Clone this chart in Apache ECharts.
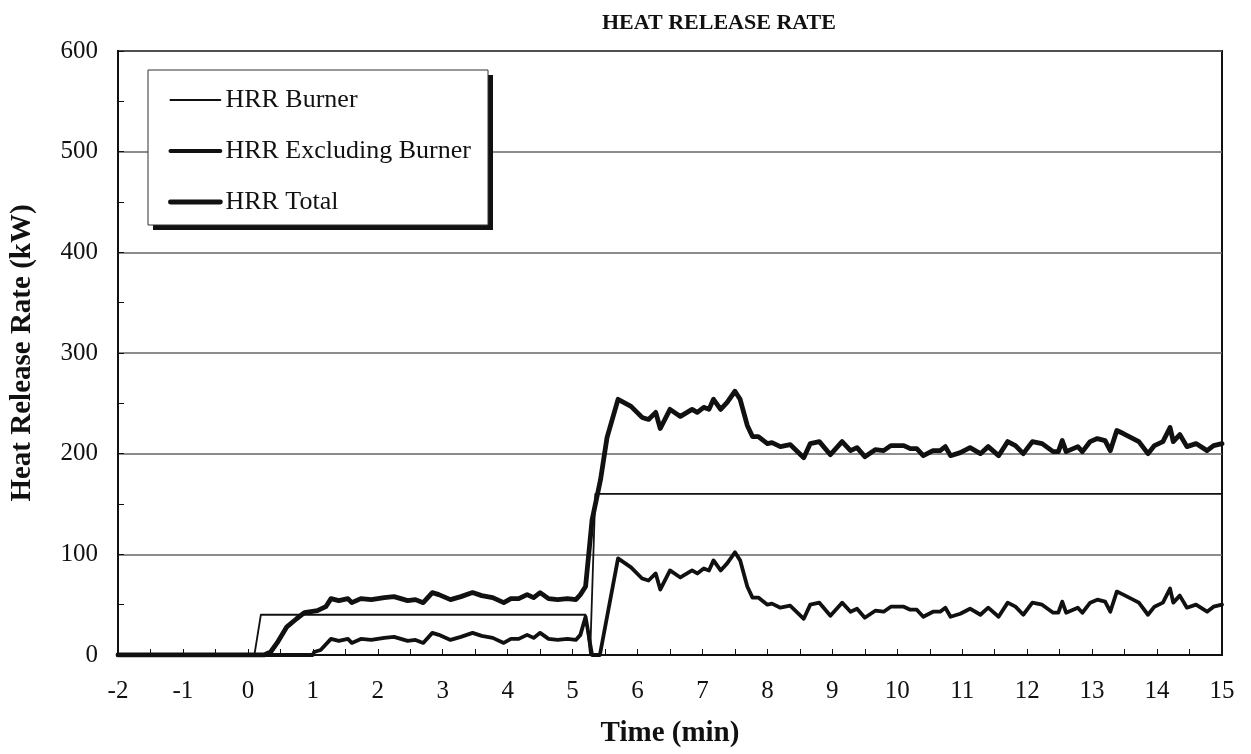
<!DOCTYPE html>
<html>
<head>
<meta charset="utf-8">
<title>Heat Release Rate</title>
<script src="https://cdn.jsdelivr.net/npm/echarts@6/dist/echarts.min.js"></script>
<style>
  html, body { margin: 0; padding: 0; background: #fff; }
  #chart { width: 1251px; height: 754px; }
</style>
</head>
<body>
<div id="chart"></div>
<script>
// 数据：时间 (min) 与 热释放速率 (kW)
let burnerData = [
    [-2, 0], [0.1, 0], [0.2, 40], [5.2, 40], [5.27, 0], [5.3, 0], [5.35, 160], [15, 160]
];

let excludingData = [
    [-2, 0], [1.0, 0], [1.02, 3], [1.12, 5], [1.28, 16], [1.4, 14], [1.54, 16], [1.6, 12],
    [1.74, 16], [1.9, 15], [2.1, 17], [2.25, 18], [2.46, 14], [2.58, 15], [2.7, 12], [2.84, 22],
    [2.94, 20], [3.12, 15], [3.28, 18], [3.46, 22], [3.6, 19], [3.77, 17], [3.94, 12], [4.05, 16],
    [4.17, 16], [4.3, 20], [4.4, 17], [4.5, 22], [4.63, 16], [4.77, 15], [4.92, 16], [5.05, 15],
    [5.12, 20], [5.2, 38], [5.3, 0], [5.42, 0], [5.7, 96], [5.9, 87], [6.07, 76], [6.17, 74],
    [6.28, 81], [6.35, 65], [6.5, 84], [6.66, 77], [6.84, 84], [6.92, 81], [7.02, 86], [7.1, 84],
    [7.17, 94], [7.28, 84], [7.38, 91], [7.5, 102], [7.58, 94], [7.69, 68], [7.77, 57], [7.86, 57],
    [8.0, 50], [8.07, 51], [8.2, 47], [8.35, 49], [8.56, 36], [8.66, 50], [8.8, 52], [8.97, 39],
    [9.15, 52], [9.28, 43], [9.38, 46], [9.5, 37], [9.66, 44], [9.79, 43], [9.9, 48], [10.1, 48],
    [10.2, 45], [10.3, 45], [10.4, 38], [10.55, 43], [10.66, 43], [10.74, 47], [10.82, 38], [10.97, 41],
    [11.12, 46], [11.28, 40], [11.4, 47], [11.56, 38], [11.7, 52], [11.82, 48], [11.94, 40], [12.08, 52],
    [12.23, 50], [12.4, 42], [12.48, 42], [12.54, 53], [12.6, 42], [12.78, 47], [12.85, 42], [12.97, 52],
    [13.08, 55], [13.2, 53], [13.28, 43], [13.38, 63], [13.48, 60], [13.6, 56], [13.72, 52], [13.86, 40],
    [13.96, 48], [14.09, 52], [14.2, 66], [14.25, 52], [14.35, 59], [14.46, 47], [14.6, 50], [14.77, 43],
    [14.87, 48], [15, 50]
];

let totalData = [
    [-2, 0], [0.25, 0], [0.35, 3], [0.45, 12], [0.6, 28], [0.75, 36], [0.87, 42], [1.07, 44],
    [1.2, 48], [1.28, 56], [1.4, 54], [1.54, 56], [1.6, 52], [1.74, 56], [1.9, 55], [2.1, 57],
    [2.25, 58], [2.46, 54], [2.58, 55], [2.7, 52], [2.84, 62], [2.94, 60], [3.12, 55], [3.28, 58],
    [3.46, 62], [3.6, 59], [3.77, 57], [3.94, 52], [4.05, 56], [4.17, 56], [4.3, 60], [4.4, 57],
    [4.5, 62], [4.63, 56], [4.77, 55], [4.92, 56], [5.05, 55], [5.12, 60], [5.2, 68], [5.3, 134],
    [5.43, 174], [5.53, 216], [5.7, 254], [5.9, 247], [6.07, 236], [6.17, 234], [6.28, 241], [6.35, 225],
    [6.5, 244], [6.66, 237], [6.84, 244], [6.92, 241], [7.02, 246], [7.1, 244], [7.17, 254], [7.28, 244],
    [7.38, 251], [7.5, 262], [7.58, 254], [7.69, 228], [7.77, 217], [7.86, 217], [8.0, 210], [8.07, 211],
    [8.2, 207], [8.35, 209], [8.56, 196], [8.66, 210], [8.8, 212], [8.97, 199], [9.15, 212], [9.28, 203],
    [9.38, 206], [9.5, 197], [9.66, 204], [9.79, 203], [9.9, 208], [10.1, 208], [10.2, 205], [10.3, 205],
    [10.4, 198], [10.55, 203], [10.66, 203], [10.74, 207], [10.82, 198], [10.97, 201], [11.12, 206], [11.28, 200],
    [11.4, 207], [11.56, 198], [11.7, 212], [11.82, 208], [11.94, 200], [12.08, 212], [12.23, 210], [12.4, 202],
    [12.48, 202], [12.54, 213], [12.6, 202], [12.78, 207], [12.85, 202], [12.97, 212], [13.08, 215], [13.2, 213],
    [13.28, 203], [13.38, 223], [13.48, 220], [13.6, 216], [13.72, 212], [13.86, 200], [13.96, 208], [14.09, 212],
    [14.2, 226], [14.25, 212], [14.35, 219], [14.46, 207], [14.6, 210], [14.77, 203], [14.87, 208], [15, 210]
];

let seriesNames = ['HRR Burner', 'HRR Excluding Burner', 'HRR Total'];
let lineWidths = [1.8, 3.8, 4.8];

let serif = "'Liberation Serif', 'Times New Roman', serif";

//实例化一个图表对象
let chart = echarts.init(document.getElementById('chart'));

let series = [burnerData, excludingData, totalData].map(function(d, i) {
    return {
        name: seriesNames[i],
        type: 'line',
        data: d,
        symbol: 'none',
        color: '#111',
        lineStyle: { color: '#111', width: lineWidths[i], join: 'round', cap: 'round' }
    };
});

let option = {
    backgroundColor: '#fff',
    animation: false,
    title: {
        text: 'HEAT RELEASE RATE',
        left: 597,
        top: 7,
        textStyle: { fontFamily: serif, fontWeight: 'bold', fontSize: 22, color: '#111' }
    },
    // 图例外框和阴影
    graphic: [
        {
            type: 'rect',
            z: 3,
            shape: { x: 153, y: 75, width: 340, height: 155 },
            style: { fill: '#111' }
        },
        {
            type: 'rect',
            z: 3,
            shape: { x: 148, y: 70, width: 340, height: 155 },
            style: { fill: '#fff', stroke: '#333', lineWidth: 1 }
        }
    ],
    legend: {
        data: seriesNames.map(function(n, i) {
            return { name: n, lineStyle: { width: lineWidths[i] } };
        }),
        orient: 'vertical',
        left: 148,
        top: 70,
        padding: [17, 15, 12, 20],
        itemGap: 25,
        itemWidth: 50,
        itemHeight: 14,
        itemStyle: { opacity: 0 },
        textStyle: { fontFamily: serif, fontSize: 26, color: '#111' }
    },
    grid: {
        left: 117,
        right: 29,
        top: 51,
        bottom: 99,
        show: true,
        borderColor: '#111',
        borderWidth: 2
    },
    xAxis: {
        type: 'value',
        min: -2,
        max: 15,
        interval: 1,
        name: 'Time (min)',
        nameLocation: 'middle',
        nameGap: 64,
        nameTextStyle: { fontFamily: serif, fontWeight: 'bold', fontSize: 29, color: '#111' },
        axisLine: { onZero: false, lineStyle: { color: '#111', width: 2 } },
        axisTick: { inside: true, length: 6, lineStyle: { color: '#111', width: 1 } },
        minorTick: { show: true, splitNumber: 2, length: 6, lineStyle: { color: '#111', width: 1 } },
        axisLabel: { fontFamily: serif, fontSize: 25, color: '#111', margin: 24 },
        splitLine: { show: false }
    },
    yAxis: {
        type: 'value',
        min: 0,
        max: 600,
        interval: 100,
        name: 'Heat Release Rate (kW)',
        nameLocation: 'middle',
        nameGap: 81,
        nameTextStyle: { fontFamily: serif, fontWeight: 'bold', fontSize: 29, color: '#111' },
        axisLine: { onZero: false, lineStyle: { color: '#111', width: 2 } },
        axisTick: { inside: true, length: 6, lineStyle: { color: '#111', width: 1 } },
        minorTick: { show: true, splitNumber: 2, length: 6, lineStyle: { color: '#111', width: 1 } },
        axisLabel: { fontFamily: serif, fontSize: 25, color: '#111', margin: 20 },
        splitLine: { show: true, lineStyle: { color: '#666', width: 1.5 } }
    },
    series: series
};

chart.setOption(option);
</script>
</body>
</html>
